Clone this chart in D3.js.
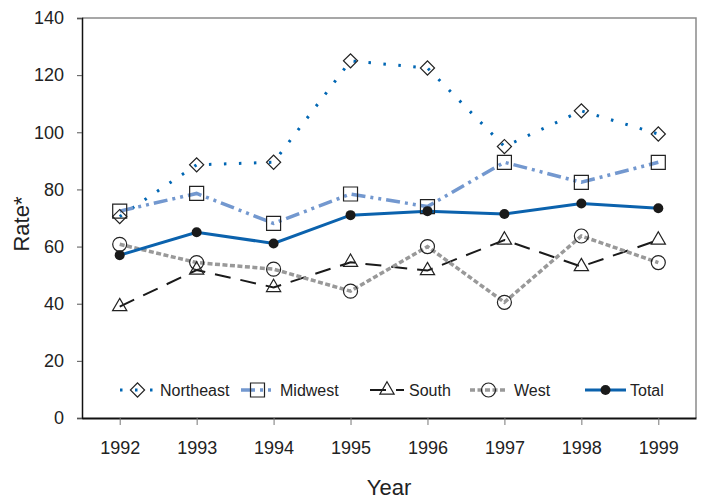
<!DOCTYPE html>
<html>
<head>
<meta charset="utf-8">
<script src="https://cdn.jsdelivr.net/npm/d3@7"></script>
<style>
  body { margin: 0; background: #fff; }
  text { font-family: Arial, "Liberation Sans", sans-serif; fill: #222; }
</style>
</head>
<body>
<svg width="704" height="500"></svg>
<script>
const years = [1992, 1993, 1994, 1995, 1996, 1997, 1998, 1999]
const northeast = [70.5, 88.6, 89.5, 125, 122.5, 95, 107.5, 99.4]
const midwest = [72.4, 78.6, 68.1, 78.4, 74, 89.5, 82.5, 89.5]
const south = [39, 51.8, 45.7, 54.5, 51.6, 62.3, 53, 62.3]
const west = [60.8, 54.4, 52.1, 44.4, 60, 40.5, 63.7, 54.4]
const total = [57, 65, 61.1, 71, 72.4, 71.4, 75.1, 73.4]
const yTicks = [0, 20, 40, 60, 80, 100, 120, 140]

const svg = d3.select('svg')

const plotLeft = 82, plotRight = 696, plotTop = 18, plotBottom = 418

const x = d3.scalePoint()
    .domain(years)
    .range([plotLeft, plotRight])
    .padding(0.49)

const y = d3.scaleLinear()
    .domain([0, 140])
    .range([plotBottom, plotTop])

const series = [
    { name: 'Northeast', values: northeast, color: '#0066b3', width: 3, dash: '2.5,12.5', symbol: 'diamond' },
    { name: 'Midwest', values: midwest, color: '#7398cf', width: 3.5, dash: '14,5,3,5,3,5', symbol: 'square' },
    { name: 'South', values: south, color: '#1a1a1a', width: 2, dash: '16,10', symbol: 'triangle' },
    { name: 'West', values: west, color: '#999999', width: 3.5, dash: '5,2.5', symbol: 'circle' },
    { name: 'Total', values: total, color: '#0b62ad', width: 3, dash: null, symbol: 'dot' }
]

const marker = (sel, kind) => {
    if (kind === 'diamond') {
        sel.append('path')
            .attr('d', d3.symbol(d3.symbolSquare, 100)())
            .attr('transform', 'rotate(45)')
            .attr('fill', 'none').attr('stroke', '#222').attr('stroke-width', 1.2)
    } else if (kind === 'square') {
        sel.append('path')
            .attr('d', d3.symbol(d3.symbolSquare, 196)())
            .attr('fill', 'none').attr('stroke', '#222').attr('stroke-width', 1.2)
    } else if (kind === 'triangle') {
        sel.append('path')
            .attr('d', d3.symbol(d3.symbolTriangle, 88)())
            .attr('fill', 'none').attr('stroke', '#222').attr('stroke-width', 1.2)
    } else if (kind === 'circle') {
        sel.append('circle')
            .attr('r', 7)
            .attr('fill', 'none').attr('stroke', '#222').attr('stroke-width', 1.2)
    } else {
        sel.append('circle')
            .attr('r', 5)
            .attr('fill', '#1a1a1a')
    }
}

// frame: top and right in grey
svg.append('path')
    .attr('d', `M${plotLeft},${plotTop}H${plotRight}V${plotBottom}`)
    .attr('fill', 'none')
    .attr('stroke', '#8a8a8a')
    .attr('stroke-width', 1.5)

// axes
const yAxis = svg.append('g')
    .attr('transform', `translate(${plotLeft},0)`)
    .call(d3.axisLeft(y).tickValues(yTicks).tickSize(5).tickPadding(13))
yAxis.select('.domain').attr('stroke', '#111').attr('stroke-width', 1.5)
yAxis.selectAll('.tick line').attr('stroke', '#555')
yAxis.selectAll('.tick text').attr('font-size', 18).attr('fill', '#222')

const xAxis = svg.append('g')
    .attr('transform', `translate(0,${plotBottom})`)
    .call(d3.axisBottom(x).tickSize(7).tickPadding(16).tickSizeOuter(0))
xAxis.select('.domain').attr('stroke', '#111').attr('stroke-width', 2)
xAxis.selectAll('.tick line').attr('stroke', '#777')
xAxis.selectAll('.tick text').attr('font-size', 18).attr('fill', '#222')

svg.append('text')
    .attr('x', (plotLeft + plotRight) / 2)
    .attr('y', 495)
    .attr('text-anchor', 'middle')
    .attr('font-size', 22)
    .text('Year')

svg.append('text')
    .attr('transform', 'translate(29,224) rotate(-90)')
    .attr('text-anchor', 'middle')
    .attr('font-size', 22)
    .text('Rate*')

// lines
const line = d3.line()
    .x((d, i) => x(years[i]))
    .y(d => y(d))

svg.append('g').selectAll('path')
    .data(series)
    .join('path')
        .attr('d', d => line(d.values))
        .attr('fill', 'none')
        .attr('stroke', d => d.color)
        .attr('stroke-width', d => d.width)
        .attr('stroke-dasharray', d => d.dash)

// markers
series.forEach(s => {
    svg.append('g').selectAll('g')
        .data(s.values)
        .join('g')
            .attr('transform', (d, i) => `translate(${x(years[i])},${y(d)})`)
            .each(function () { marker(d3.select(this), s.symbol) })
})

// legend
const legendPos = [
    { x1: 120, x2: 155, tx: 160 },
    { x1: 241, x2: 274, tx: 280 },
    { x1: 370, x2: 404, tx: 409 },
    { x1: 470, x2: 507, tx: 514 },
    { x1: 585, x2: 626, tx: 630 }
]
const ly = 390

const legend = svg.append('g').selectAll('g')
    .data(series)
    .join('g')

legend.append('line')
    .attr('x1', (d, i) => legendPos[i].x1)
    .attr('x2', (d, i) => legendPos[i].x2)
    .attr('y1', ly).attr('y2', ly)
    .attr('stroke', d => d.color)
    .attr('stroke-width', d => d.width)
    .attr('stroke-dasharray', d => d.dash)

legend.append('g')
    .attr('transform', (d, i) => `translate(${(legendPos[i].x1 + legendPos[i].x2) / 2},${ly})`)
    .each(function (d) { marker(d3.select(this), d.symbol) })

legend.append('text')
    .attr('x', (d, i) => legendPos[i].tx)
    .attr('y', ly)
    .attr('dy', '0.35em')
    .attr('font-size', 16)
    .text(d => d.name)
</script>
</body>
</html>
